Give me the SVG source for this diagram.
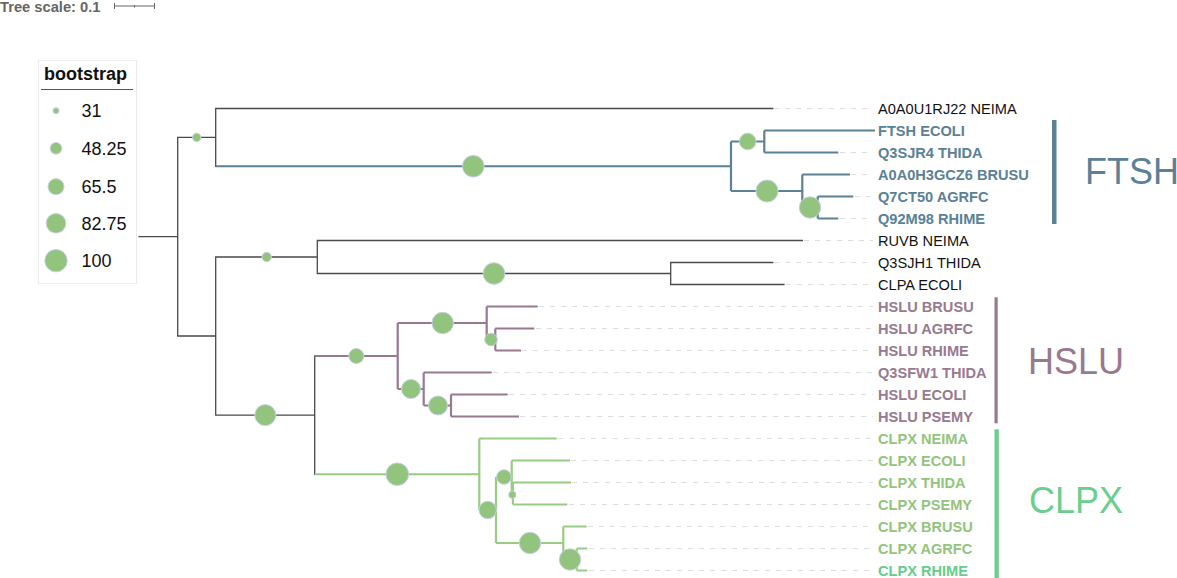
<svg xmlns="http://www.w3.org/2000/svg" width="1177" height="578" viewBox="0 0 1177 578">
<defs>
<style>
.br{fill:none;stroke:#4a4a4a;stroke-width:1.3;stroke-linecap:square}
.ft{fill:none;stroke:#5a8196;stroke-width:2.2}
.hs{fill:none;stroke:#98798f;stroke-width:2.2}
.cx{fill:none;stroke:#98cb84;stroke-width:2.2}
.ld{fill:none;stroke:#dedede;stroke-width:1;stroke-dasharray:5 6}
.bs{fill:#93c47d;stroke:#c6d0e6;stroke-width:1}
.lb{font-family:"Liberation Sans",Arial,sans-serif;font-size:14.6px}
.lbk{fill:#111}
.lft{fill:#5a8196;font-weight:bold}
.lhs{fill:#98798f;font-weight:bold}
.lcx{fill:#93c47d;font-weight:bold}
.big{font-family:"Liberation Sans",Arial,sans-serif;font-size:36px}
.lg{font-family:"Liberation Sans",Arial,sans-serif;font-size:18px;fill:#111}
</style>
</defs>
<rect width="1177" height="578" fill="#ffffff"/>

<g id="scale">
<text x="0" y="11.5" font-family="Liberation Sans, Arial, sans-serif" font-size="14.7" font-weight="bold" fill="#666">Tree scale: 0.1</text>
<path d="M114.5 6H154.5M114.5 3V9M154.5 3V9M134.5 5V7.5" fill="none" stroke="#666" stroke-width="1"/>
</g>

<g id="legend">
<rect x="38.5" y="60.5" width="98" height="223" fill="#fff" stroke="#ececec" stroke-width="1"/>
<text class="lg" x="44" y="80" font-weight="bold">bootstrap</text>
<line x1="41" y1="89.5" x2="133" y2="89.5" stroke="#555" stroke-width="1"/>
<circle class="bs" cx="56" cy="110.7" r="3"/>
<circle class="bs" cx="56" cy="148.3" r="5.8"/>
<circle class="bs" cx="56" cy="186.7" r="8"/>
<circle class="bs" cx="56" cy="223.3" r="9.8"/>
<circle class="bs" cx="56" cy="260.7" r="11.2"/>
<text class="lg" x="81.5" y="117">31</text>
<text class="lg" x="81.5" y="154.6">48.25</text>
<text class="lg" x="81.5" y="193">65.5</text>
<text class="lg" x="81.5" y="229.6">82.75</text>
<text class="lg" x="81.5" y="267">100</text>
</g>

<g id="connectors">
<!-- leader dashes -->
<path class="ld" d="M774 108.5H873M840 152.5H873M851 174.5H873M855 196.5H873M840 218.5H873M804 240.5H873M774 262.5H873M786 284.5H873M539 306.5H873M536 328.5H873M522 350.5H873M493 372.5H873M509 394.5H873M520 416.5H873M558 438.5H873M571 460.5H873M572 482.5H873M569 504.5H873M588 526.5H873M589 548.5H873M589 570.5H873"/>
<!-- black branches -->
<path class="br" d="M139 236.7H177.7M177.7 137.4V336M177.7 137.4H215.7M177.7 336H215.7M215.7 108.5V166.25M215.7 108.5H772.7M215.7 257V415.1M215.7 257H317.3M317.3 240.5V273.5M317.3 240.5H802.3M317.3 273.5H670.7M670.7 262.5V284.5M670.7 262.5H772.7M670.7 284.5H784M215.7 415.1H314.7M314.7 356V474.25"/>
<!-- FTSH -->
<path class="ft" d="M215.7 166.25H731M731 141.5V191M731 141.5H764.3M764.3 130.5V152.5M764.3 130.5H875M764.3 152.5H838.3M731 191H802.3M802.3 174.5V207.5M802.3 174.5H850M802.3 207.5H817.7M817.7 196.5V218.5M817.7 196.5H853.3M817.7 218.5H838.3"/>
<!-- HSLU -->
<path class="hs" d="M314.7 356H397.7M397.7 323V389M397.7 323H486.7M486.7 306.5V339.5M486.7 306.5H537.7M486.7 339.5H495.3M495.3 328.5V350.5M495.3 328.5H534.3M495.3 350.5H521M397.7 389H423.7M423.7 372.5V405.5M423.7 372.5H491.7M423.7 405.5H451M451 394.5V416.5M451 394.5H507.7M451 416.5H519"/>
<!-- CLPX -->
<path class="cx" d="M314.7 474.25H479.3M479.3 438.5V510M479.3 438.5H556.7M479.3 510H496M496 477V543M496 477H511.7M511.7 460.5V493.5M511.7 460.5H570M511.7 493.5H512.9M512.9 482.5V504.5M512.9 482.5H571M512.9 504.5H567.3M496 543H563.3M563.3 526.5V559.5M563.3 526.5H586.7M563.3 559.5H576.7M576.7 548.5V570.5M576.7 548.5H587.3M576.7 570.5H587.3"/>
</g>

<g id="bootstraps">
<circle class="bs" cx="196.7" cy="137.4" r="4.2"/>
<circle class="bs" cx="473.3" cy="166.25" r="10.8"/>
<circle class="bs" cx="747.7" cy="141.5" r="8.3"/>
<circle class="bs" cx="767" cy="191" r="11"/>
<circle class="bs" cx="810" cy="207.5" r="10.7"/>
<circle class="bs" cx="266.7" cy="257" r="4.7"/>
<circle class="bs" cx="494" cy="273.5" r="10.8"/>
<circle class="bs" cx="265.3" cy="415.1" r="10.5"/>
<circle class="bs" cx="356.3" cy="356" r="7.5"/>
<circle class="bs" cx="442.7" cy="323" r="10.7"/>
<circle class="bs" cx="491" cy="339.5" r="6.3"/>
<circle class="bs" cx="411" cy="389" r="9.5"/>
<circle class="bs" cx="438" cy="405.5" r="9.5"/>
<circle class="bs" cx="397.3" cy="474.25" r="11.3"/>
<circle class="bs" cx="487.7" cy="510" r="8.7"/>
<circle class="bs" cx="504" cy="477" r="7.3"/>
<circle class="bs" cx="512.3" cy="494.7" r="3.7"/>
<circle class="bs" cx="530" cy="543" r="10.7"/>
<circle class="bs" cx="570" cy="559.5" r="10.7"/>
</g>

<g id="leaf-labels">
<text class="lb lbk" x="878" y="113.5">A0A0U1RJ22 NEIMA</text>
<text class="lb lft" x="878" y="135.5">FTSH ECOLI</text>
<text class="lb lft" x="878" y="157.5">Q3SJR4 THIDA</text>
<text class="lb lft" x="878" y="179.5">A0A0H3GCZ6 BRUSU</text>
<text class="lb lft" x="878" y="201.5">Q7CT50 AGRFC</text>
<text class="lb lft" x="878" y="223.5">Q92M98 RHIME</text>
<text class="lb lbk" x="878" y="245.5">RUVB NEIMA</text>
<text class="lb lbk" x="878" y="267.5">Q3SJH1 THIDA</text>
<text class="lb lbk" x="878" y="289.5">CLPA ECOLI</text>
<text class="lb lhs" x="878" y="311.5">HSLU BRUSU</text>
<text class="lb lhs" x="878" y="333.5">HSLU AGRFC</text>
<text class="lb lhs" x="878" y="355.5">HSLU RHIME</text>
<text class="lb lhs" x="878" y="377.5">Q3SFW1 THIDA</text>
<text class="lb lhs" x="878" y="399.5">HSLU ECOLI</text>
<text class="lb lhs" x="878" y="421.5">HSLU PSEMY</text>
<text class="lb lcx" x="878" y="443.5">CLPX NEIMA</text>
<text class="lb lcx" x="878" y="465.5">CLPX ECOLI</text>
<text class="lb lcx" x="878" y="487.5">CLPX THIDA</text>
<text class="lb lcx" x="878" y="509.5">CLPX PSEMY</text>
<text class="lb lcx" x="878" y="531.5">CLPX BRUSU</text>
<text class="lb lcx" x="878" y="553.5">CLPX AGRFC</text>
<text class="lb lcx" x="878" y="575.5" fill="#66cc8c" style="fill:#66cc8c">CLPX RHIME</text>
</g>

<g id="clade-FTSH">
<rect x="1052" y="120" width="4.5" height="104" fill="#5a8196"/>
<text class="big" x="1085" y="184.3" fill="#5a8196">FTSH</text>
</g>
<g id="clade-HSLU">
<rect x="994.5" y="297.3" width="3.2" height="126" fill="#98798f"/>
<text class="big" x="1028" y="374" fill="#98798f">HSLU</text>
</g>
<g id="clade-CLPX">
<rect x="994.5" y="429.3" width="4.3" height="150" fill="#6acf8e"/>
<text class="big" x="1029" y="513.3" fill="#6acf8e">CLPX</text>
</g>
</svg>
